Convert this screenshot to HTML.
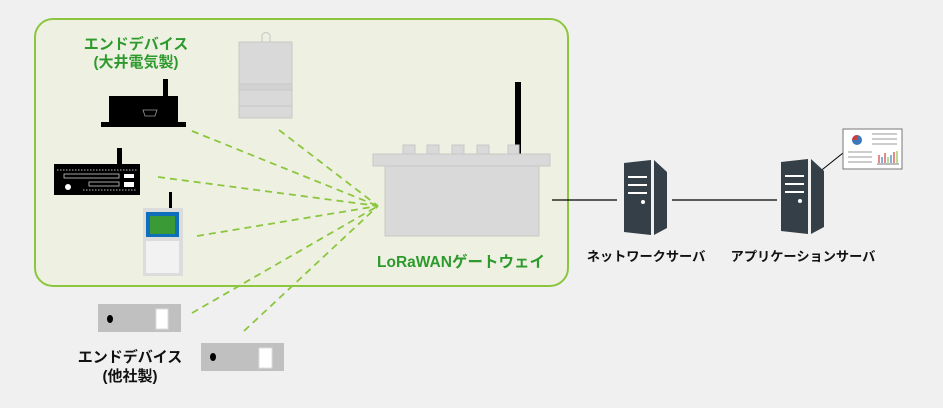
<!DOCTYPE html>
<html><head><meta charset="utf-8"><style>
html,body{margin:0;padding:0;background:#f0f0f0;}
svg{display:block;}
text{font-family:"Liberation Sans","Noto Sans CJK JP",sans-serif;font-weight:bold;}
</style></head><body>
<svg width="943" height="408" viewBox="0 0 943 408" xmlns="http://www.w3.org/2000/svg">
<rect x="0" y="0" width="943" height="408" fill="#f0f0f0"/>
<rect x="35" y="19" width="533" height="267" rx="18" fill="#eef1e1" stroke="#8cc63f" stroke-width="2"/>
<g stroke="#8cc63f" stroke-width="1.8" stroke-dasharray="7,5" fill="none">
<line x1="192" y1="131" x2="378" y2="206"/>
<line x1="158" y1="177" x2="378" y2="206"/>
<line x1="197" y1="236" x2="378" y2="206"/>
<line x1="279" y1="130" x2="378" y2="206"/>
<line x1="192" y1="313" x2="378" y2="206"/>
<line x1="244" y1="331" x2="378" y2="206"/>
</g>
<path d="M262 42 L262 35 Q266 30 270 35 L270 42" fill="none" stroke="#ccc" stroke-width="1.2"/>
<rect x="239" y="42" width="53" height="76" fill="#d9d9d9" stroke="#c8c8c8"/>
<rect x="239" y="84" width="53" height="6" fill="#d2d2d2" stroke="#c8c8c8"/>
<line x1="239" y1="106" x2="292" y2="106" stroke="#c8c8c8"/>
<rect x="163" y="79" width="5" height="19" fill="#000"/>
<rect x="109" y="96" width="69" height="27" fill="#000"/>
<rect x="101" y="122" width="85" height="5" fill="#000"/>
<path d="M143 110 L157 110 L155 116 L145 116 Z" fill="none" stroke="#999" stroke-width="0.8"/>
<rect x="117" y="148" width="5" height="17" fill="#000"/>
<rect x="54" y="164" width="86" height="31" fill="#000"/>
<line x1="57" y1="170" x2="137" y2="170" stroke="#bbb" stroke-width="1" stroke-dasharray="1.5,1.5"/>
<line x1="83" y1="190" x2="137" y2="190" stroke="#bbb" stroke-width="1" stroke-dasharray="1.5,1.5"/>
<rect x="64" y="174" width="55" height="4" fill="none" stroke="#ccc" stroke-width="0.8"/>
<rect x="89" y="182" width="30" height="4" fill="none" stroke="#ccc" stroke-width="0.8"/>
<rect x="124" y="174" width="10" height="4" fill="#fff"/>
<rect x="124" y="182" width="10" height="5" fill="#fff"/>
<circle cx="68" cy="187" r="3" fill="#fff"/>
<rect x="169" y="192" width="3" height="17" fill="#000"/>
<rect x="143" y="208" width="40" height="68" fill="#dcdcdc"/>
<rect x="146" y="212" width="33" height="25" fill="#0f6fba"/>
<rect x="150" y="216" width="25" height="18" fill="#3a9a35"/>
<rect x="146" y="241" width="33" height="32" fill="#f2f2f2"/>
<rect x="515" y="82" width="6" height="72" fill="#000"/>
<g fill="#d9d9d9" stroke="#c8c8c8">
<rect x="403" y="145" width="12" height="9"/>
<rect x="427" y="145" width="12" height="9"/>
<rect x="452" y="145" width="12" height="9"/>
<rect x="477" y="145" width="12" height="9"/>
<rect x="508" y="145" width="11" height="9"/>
<rect x="385" y="166" width="154" height="70"/>
<rect x="373" y="154" width="177" height="12"/>
</g>
<line x1="552" y1="200" x2="617" y2="200" stroke="#000" stroke-width="1.2"/>
<line x1="672" y1="200" x2="777" y2="200" stroke="#000" stroke-width="1.2"/>
<line x1="818" y1="173" x2="843" y2="153" stroke="#000" stroke-width="1"/>
<g fill="#343f48">
<path d="M624 163 L651 160 L651 235 L624 232 Z"/>
<path d="M654 160 L667 172 L667 228 L654 235 Z"/>
</g>
<g fill="#fff"><rect x="628" y="176" width="19" height="2"/><rect x="628" y="184" width="19" height="2"/><rect x="628" y="192" width="19" height="2"/><circle cx="643" cy="202" r="2"/></g>
<g fill="#343f48">
<path d="M781 162 L808 159 L808 234 L781 231 Z"/>
<path d="M811 159 L824 171 L824 227 L811 234 Z"/>
</g>
<g fill="#fff"><rect x="785" y="175" width="19" height="2"/><rect x="785" y="183" width="19" height="2"/><rect x="785" y="191" width="19" height="2"/><circle cx="800" cy="201" r="2"/></g>
<rect x="843" y="129" width="59" height="40" fill="#fff" stroke="#777"/>
<circle cx="857" cy="140" r="5" fill="#3a78c0"/>
<path d="M857 140 L852 140 A5 5 0 0 1 857 135 Z" fill="#d03b3b"/>
<g stroke="#999" stroke-width="1"><line x1="872" y1="134" x2="897" y2="134"/><line x1="872" y1="139" x2="897" y2="139"/><line x1="872" y1="144" x2="897" y2="144"/><line x1="848" y1="152" x2="872" y2="152"/><line x1="848" y1="157" x2="872" y2="157"/><line x1="848" y1="162" x2="872" y2="162"/></g>
<g stroke-width="1.2"><line x1="879" y1="163" x2="879" y2="155" stroke="#d03b3b"/><line x1="882" y1="163" x2="882" y2="157" stroke="#3a78c0"/><line x1="885" y1="163" x2="885" y2="153" stroke="#d03b3b"/><line x1="888" y1="163" x2="888" y2="157" stroke="#8bc34a"/><line x1="891" y1="163" x2="891" y2="155" stroke="#3a78c0"/><line x1="894" y1="163" x2="894" y2="152" stroke="#d03b3b"/><line x1="897" y1="163" x2="897" y2="151" stroke="#8bc34a"/></g>
<line x1="877" y1="164" x2="899" y2="164" stroke="#777"/>
<rect x="98" y="304" width="83" height="28" fill="#c0c0c0"/>
<ellipse cx="110" cy="319" rx="3" ry="4" fill="#000"/>
<rect x="156" y="309" width="12" height="20" fill="#fff" stroke="#ddd"/>
<rect x="201" y="343" width="83" height="28" fill="#c0c0c0"/>
<ellipse cx="213" cy="357" rx="3" ry="4" fill="#000"/>
<rect x="259" y="348" width="13" height="20" fill="#fff" stroke="#ddd"/>
<g font-size="15" text-anchor="middle">
<text x="136" y="49" fill="#2e9a2e">エンドデバイス</text>
<text x="136" y="67" fill="#2e9a2e">(大井電気製)</text>
<text x="461" y="267" fill="#2e9a2e" font-size="15.5">LoRaWANゲートウェイ</text>
<text x="130" y="362" fill="#111">エンドデバイス</text>
<text x="130" y="381" fill="#111">(他社製)</text>
</g>
<g font-size="13.2" text-anchor="middle" fill="#111">
<text x="646" y="261">ネットワークサーバ</text>
<text x="803" y="261">アプリケーションサーバ</text>
</g>
</svg>
</body></html>
